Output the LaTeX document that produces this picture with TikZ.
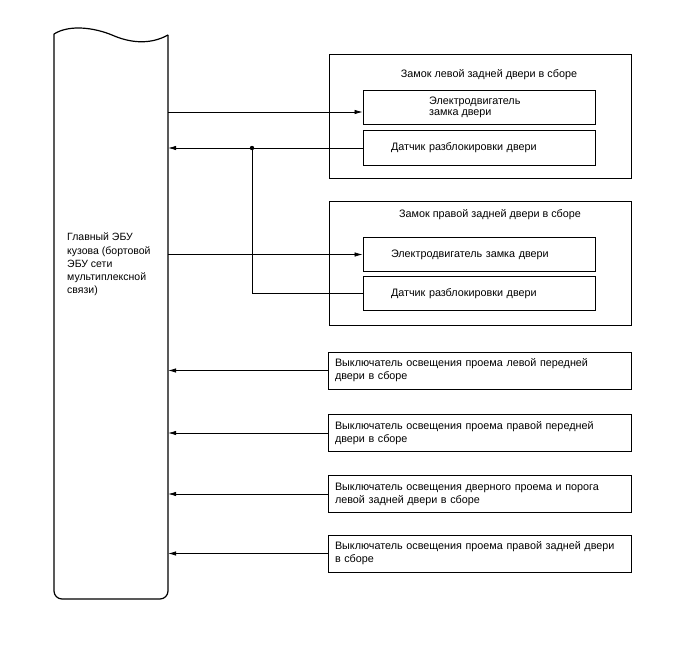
\documentclass[tikz,border=0pt]{standalone}
\usepackage{fontspec}
\setmainfont{Liberation Sans}
\usetikzlibrary{arrows.meta, positioning, calc}

\begin{document}
\begin{tikzpicture}[
    x=1pt,
    y=-1pt,
    >={Latex[length=8pt, width=4.5pt]},
    font=\fontsize{10.8}{13}\selectfont,
    ecubox/.style={
        rectangle,
        draw=none,
        minimum width=114pt,
        minimum height=564pt,
        inner sep=0pt
    },
    assy/.style={
        rectangle,
        draw=black,
        line width=1pt,
        minimum width=302pt,
        inner sep=0pt
    },
    part/.style={
        rectangle,
        draw=black,
        line width=1pt,
        minimum width=232pt,
        minimum height=34pt,
        text width=176pt,
        inner xsep=28pt,
        inner ysep=0pt,
        align=left
    },
    swbox/.style={
        rectangle,
        draw=black,
        line width=1pt,
        minimum width=303pt,
        minimum height=37pt,
        text width=289pt,
        inner xsep=6pt,
        inner ysep=0pt,
        align=left
    },
    plain/.style={
        inner sep=0pt,
        align=left
    },
    wire/.style={
        line width=0.7pt
    }
]
\useasboundingbox (0,0) rectangle (688,658);

% Body ECU (left column)
\node[ecubox] (ecu) at (111,317) {};
\node[plain, anchor=north west, font=\fontsize{10.5}{13.2}\selectfont] (ecutext) at (67,233)
    {Главный ЭБУ\\кузова (бортовой\\ЭБУ сети\\мультиплексной\\связи)};
\draw[line width=1.2pt, rounded corners=8pt]
    (54,34) -- (54,599) -- (168,599) -- (168,35);
\draw[line width=1.2pt]
    (54,34) .. controls (70,24) and (95,28) .. (112,35)
            .. controls (130,43) and (150,45) .. (168,35);

% Left rear door lock assembly
\node[assy, minimum height=123pt] (lockL) at (480,116.5) {};
\node[plain] (lockLt) at (489,75) {Замок левой задней двери в сборе};
\node[part] (motorL) at (479,108) {};
\node[plain, anchor=west, font=\fontsize{10.8}{11.5}\selectfont] (motorLt) at (429,107.5)
    {Электродвигатель\\замка двери};
\node[part] (sensL) at (479,148) {Датчик разблокировки двери};

% Right rear door lock assembly
\node[assy, minimum height=124pt] (lockR) at (480,263) {};
\node[plain] (lockRt) at (490,215) {Замок правой задней двери в сборе};
\node[part] (motorR) at (479,254.5) {Электродвигатель замка двери};
\node[part] (sensR) at (479,293.5) {Датчик разблокировки двери};

% Courtesy light switches
\node[swbox] (sw1) at (479.5,370.5)
    {Выключатель освещения проема левой передней\\двери в сборе};
\node[swbox] (sw2) at (479.5,433)
    {Выключатель освещения проема правой передней\\двери в сборе};
\node[swbox] (sw3) at (479.5,494)
    {Выключатель освещения дверного проема и порога\\левой задней двери в сборе};
\node[swbox] (sw4) at (479.5,553.5)
    {Выключатель освещения проема правой задней двери\\в сборе};

% Lock wiring
\draw[wire, ->] ([yshift=-4pt]motorL.west -| ecu.east) -- ([yshift=-4pt]motorL.west);
\draw[wire, ->] (sensL.west) -- (sensL.west -| ecu.east);
\coordinate (jn) at (252,148);
\fill (jn) circle (2.2pt);
\draw[wire] (sensR.west) -| (jn);
\draw[wire, ->] (motorR.west -| ecu.east) -- (motorR.west);

% Switch wiring
\draw[wire, ->] (sw1.west) -- (sw1.west -| ecu.east);
\draw[wire, ->] (sw2.west) -- (sw2.west -| ecu.east);
\draw[wire, ->] (sw3.west) -- (sw3.west -| ecu.east);
\draw[wire, ->] (sw4.west) -- (sw4.west -| ecu.east);

\end{tikzpicture}
\end{document}
